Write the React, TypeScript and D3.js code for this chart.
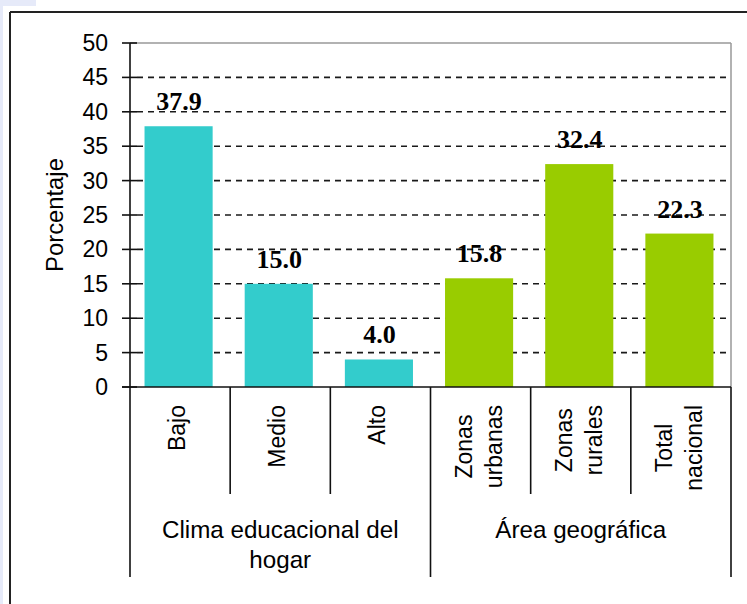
import React, { useEffect, useRef } from "react";
import * as d3 from "d3";

const categories = ["Bajo", "Medio", "Alto", "Zonas urbanas", "Zonas rurales", "Total nacional"];
const categoryLines = [["Bajo"], ["Medio"], ["Alto"], ["Zonas", "urbanas"], ["Zonas", "rurales"], ["Total", "nacional"]];
const values = [37.9, 15.0, 4.0, 15.8, 32.4, 22.3];
const groupOf = [0, 0, 0, 1, 1, 1];
const groups = [["Clima educacional del", "hogar"], ["Área geográfica"]];
const groupStart = [0, 3];
const groupColors = ["#33CCCC", "#99CC00"];
const yTicks = [0, 5, 10, 15, 20, 25, 30, 35, 40, 45, 50];
const yTitle = "Porcentaje";

const W = 747;
const H = 604;
const SANS = "'Liberation Sans', Arial, sans-serif";
const SERIF = "'Liberation Serif', 'Times New Roman', serif";

export default function App() {
  const ref = useRef<SVGSVGElement | null>(null);

  useEffect(() => {
    const svg = d3.select(ref.current);
    svg.selectAll("*").remove();

    const left = 130, right = 731, top = 43, bottom = 387;
    const y = d3.scaleLinear().domain([0, 50]).range([bottom, top]);
    const x = d3.scaleBand<string>().domain(categories).range([left, right]).padding(0);
    const step = x.step();
    const barW = step * 0.68;

    // background bits
    svg.append("rect").attr("x", 0).attr("y", 0).attr("width", W).attr("height", H).attr("fill", "#fff");
    svg.append("rect").attr("x", 0).attr("y", 0).attr("width", 36).attr("height", 6).attr("fill", "#e6eaf9");
    svg.append("rect").attr("x", 0).attr("y", 0).attr("width", 3).attr("height", H).attr("fill", "#e6eaf9");
    // outer border
    svg.append("line").attr("x1", 10).attr("x2", W).attr("y1", 12).attr("y2", 12).attr("stroke", "#222").attr("stroke-width", 2);
    svg.append("line").attr("x1", 10).attr("x2", 10).attr("y1", 12).attr("y2", H).attr("stroke", "#222").attr("stroke-width", 2);

    // plot border (gray)
    svg.append("line").attr("x1", left).attr("x2", right).attr("y1", top).attr("y2", top).attr("stroke", "#999").attr("stroke-width", 1.5);
    svg.append("line").attr("x1", right).attr("x2", right).attr("y1", top).attr("y2", bottom).attr("stroke", "#999").attr("stroke-width", 1.5);

    // gridlines
    svg.append("g").selectAll("line").data(yTicks.filter((t) => t > 0 && t < 50)).join("line")
      .attr("x1", left + 7).attr("x2", right - 1)
      .attr("y1", (d) => y(d)).attr("y2", (d) => y(d))
      .attr("stroke", "#1a1a1a").attr("stroke-width", 1.6).attr("stroke-dasharray", "6,5");

    // bars
    svg.append("g").selectAll("rect").data(values).join("rect")
      .attr("x", (_d, i) => (x(categories[i]) as number) + step / 2 - barW / 2 - 1.5)
      .attr("width", barW)
      .attr("y", (d) => y(d))
      .attr("height", (d) => bottom - y(d))
      .attr("fill", (_d, i) => groupColors[groupOf[i]]);

    // value labels
    svg.append("g").selectAll("text").data(values).join("text")
      .attr("x", (_d, i) => (x(categories[i]) as number) + step / 2 - 1)
      .attr("y", (d) => y(d) - 16)
      .attr("text-anchor", "middle")
      .attr("font-family", SERIF).attr("font-weight", "bold").attr("font-size", 26)
      .attr("fill", "#000")
      .text((d) => d.toFixed(1));

    // y axis line (extends to bottom of category area)
    svg.append("line").attr("x1", left).attr("x2", left).attr("y1", top).attr("y2", 577).attr("stroke", "#111").attr("stroke-width", 1.6);
    // ticks
    svg.append("g").selectAll("line").data(yTicks).join("line")
      .attr("x1", 122).attr("x2", 137)
      .attr("y1", (d) => y(d)).attr("y2", (d) => y(d))
      .attr("stroke", "#111").attr("stroke-width", 1.6);
    svg.append("g").selectAll("text").data(yTicks).join("text")
      .attr("x", 108).attr("y", (d) => y(d) + 8)
      .attr("text-anchor", "end")
      .attr("font-family", SANS).attr("font-size", 23).attr("fill", "#000")
      .text((d) => String(d));

    // y title
    svg.append("text")
      .attr("transform", `translate(63, ${(top + bottom) / 2}) rotate(-90)`)
      .attr("text-anchor", "middle")
      .attr("font-family", SANS).attr("font-size", 23.8).attr("fill", "#000")
      .text(yTitle);

    // category baseline
    svg.append("line").attr("x1", 122).attr("x2", right).attr("y1", bottom).attr("y2", bottom).attr("stroke", "#111").attr("stroke-width", 1.6);

    // separators
    const bounds = d3.range(categories.length + 1).map((i) => left + i * step);
    bounds.forEach((bx, i) => {
      if (i === 0) return;
      const isGroup = groupStart.includes(i) || i === categories.length;
      svg.append("line").attr("x1", bx).attr("x2", bx).attr("y1", bottom).attr("y2", isGroup ? 577 : 494)
        .attr("stroke", "#111").attr("stroke-width", 1.6);
    });

    // category labels (rotated)
    const labelTop = 405;
    categoryLines.forEach((lines, i) => {
      const cx = (x(categories[i]) as number) + step / 2;
      if (lines.length === 1) {
        svg.append("text")
          .attr("transform", `translate(${cx + 5}, ${labelTop}) rotate(-90)`)
          .attr("text-anchor", "end")
          .attr("font-family", SANS).attr("font-size", 23).attr("fill", "#000")
          .text(lines[0]);
      } else {
        const offs = [-9, 21];
        const nodes = lines.map((ln, k) =>
          svg.append("text")
            .attr("text-anchor", "middle")
            .attr("font-family", SANS).attr("font-size", 23).attr("fill", "#000")
            .attr("data-off", offs[k])
            .text(ln)
        );
        const maxLen = d3.max(nodes, (n) => (n.node() as SVGTextElement).getComputedTextLength()) || 0;
        nodes.forEach((n, k) => {
          n.attr("transform", `translate(${cx + offs[k]}, ${labelTop + maxLen / 2}) rotate(-90)`);
        });
      }
    });

    // group labels
    groups.forEach((lines, g) => {
      const s = groupStart[g];
      const e = g + 1 < groupStart.length ? groupStart[g + 1] : categories.length;
      const gx = left + ((s + e) / 2) * step;
      lines.forEach((ln, k) => {
        svg.append("text")
          .attr("x", gx).attr("y", 538 + k * 30)
          .attr("text-anchor", "middle")
          .attr("font-family", SANS).attr("font-size", 24.2).attr("fill", "#000")
          .text(ln);
      });
    });
  }, []);

  return (
    <svg
      ref={ref}
      width={W}
      height={H}
      style={{ position: "absolute", left: 0, top: 0, display: "block" }}
    />
  );
}
